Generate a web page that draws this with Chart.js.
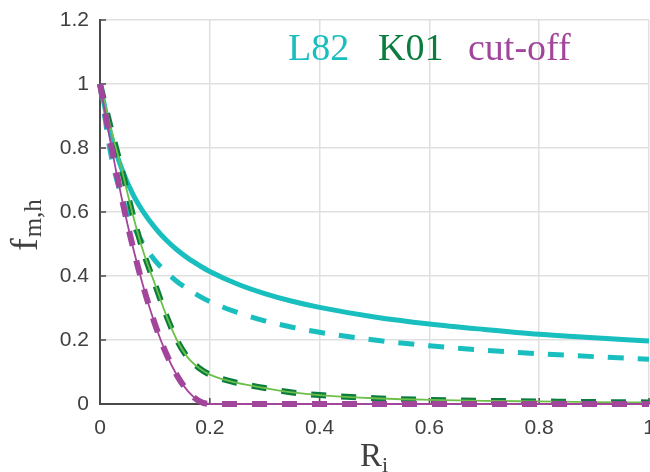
<!DOCTYPE html>
<html>
<head>
<meta charset="utf-8">
<script src="https://cdn.jsdelivr.net/npm/chart.js@4/dist/chart.umd.min.js"></script>
<style>
  html, body { margin: 0; padding: 0; background: #fff; }
  #wrap { width: 650px; height: 472px; }
</style>
</head>
<body>
<div id="wrap"><canvas id="fmh"></canvas></div>
<script>
// Richardson number samples
const ri = [0, 0.02, 0.04, 0.06, 0.08, 0.1, 0.12, 0.14, 0.16, 0.18, 0.2,
            0.25, 0.3, 0.35, 0.4, 0.5, 0.6, 0.7, 0.8, 0.9, 1.0];

// L82: momentum (solid) and heat (dashed)
const l82m = [1, 0.84, 0.733, 0.655, 0.597, 0.551, 0.513, 0.482, 0.456, 0.434, 0.414,
              0.375, 0.345, 0.321, 0.302, 0.272, 0.25, 0.233, 0.218, 0.207, 0.197];
const l82h = [1, 0.778, 0.646, 0.559, 0.497, 0.449, 0.413, 0.383, 0.359, 0.338, 0.32,
              0.286, 0.26, 0.24, 0.224, 0.2, 0.182, 0.168, 0.157, 0.148, 0.14];

// K01
const k01 = [1, 0.86, 0.73, 0.59, 0.47, 0.375, 0.28, 0.2, 0.145, 0.113, 0.092,
             0.066, 0.05, 0.036, 0.028, 0.018, 0.013, 0.01, 0.008, 0.006, 0.005];

// cut-off
const cutoff = [1, 0.81, 0.64, 0.49, 0.36, 0.25, 0.16, 0.09, 0.04, 0.01, 0,
                0, 0, 0, 0, 0, 0, 0, 0, 0, 0];

const xTicks = [0, 0.2, 0.4, 0.6, 0.8, 1];
const xTickLabels = ['0', '0.2', '0.4', '0.6', '0.8', '1'];
const yTicks = [0, 0.2, 0.4, 0.6, 0.8, 1, 1.2];
const yTickLabels = ['0', '0.2', '0.4', '0.6', '0.8', '1', '1.2'];

const legendItems = ['L82', 'K01', 'cut-off'];

const CYAN = '#19bebe';
const GREEN = '#0a7d3e';
const LIME = '#6cc04a';
const PURPLE = '#a2469c';
const AXIS = '#4a4a4a';

function pts(ys) {
    return ri.map((x, i) => ({ x: x, y: ys[i] }));
}

function line(ys, color, width, dash, order) {
    return {
        data: pts(ys),
        borderColor: color,
        borderWidth: width,
        borderDash: dash,
        pointRadius: 0,
        fill: false,
        cubicInterpolationMode: 'monotone',
        clip: false,
        order: order
    };
}

// inner tick marks, axis titles and the coloured text legend
const decorations = {
    id: 'decorations',
    beforeDatasetsDraw(chart) {
        const ctx = chart.ctx;
        const x = chart.scales.x, y = chart.scales.y;
        const a = chart.chartArea;
        ctx.save();
        ctx.strokeStyle = AXIS;
        ctx.lineWidth = 1.5;
        ctx.beginPath();
        xTicks.forEach(v => {
            const px = x.getPixelForValue(v);
            ctx.moveTo(px, a.bottom);
            ctx.lineTo(px, a.bottom - 6);
        });
        yTicks.forEach(v => {
            const py = y.getPixelForValue(v);
            ctx.moveTo(a.left, py);
            ctx.lineTo(a.left + 6, py);
        });
        ctx.stroke();
        ctx.restore();
    },
    afterDraw(chart) {
        const ctx = chart.ctx;
        ctx.save();
        ctx.textBaseline = 'alphabetic';
        ctx.textAlign = 'left';

        // x title R_i
        ctx.fillStyle = '#404040';
        ctx.font = '33px "Liberation Serif"';
        ctx.fillText('R', 360, 466);
        ctx.font = '22px "Liberation Serif"';
        ctx.fillText('i', 382, 472);

        // y title f_{m,h}
        ctx.save();
        ctx.translate(37, 251);
        ctx.rotate(-Math.PI / 2);
        ctx.font = '38px "Liberation Serif"';
        ctx.fillText('f', 0, 0);
        const fw = ctx.measureText('f').width;
        ctx.font = '25px "Liberation Serif"';
        ctx.fillText('m,h', fw + 1, 4);
        ctx.restore();

        // legend text
        const colors = [CYAN, GREEN, PURPLE];
        const lx = [288, 378, 468];
        ctx.font = '38px "Liberation Serif"';
        legendItems.forEach((t, i) => {
            ctx.fillStyle = colors[i];
            ctx.fillText(t, lx[i], 60);
        });
        ctx.restore();
    }
};

new Chart(document.getElementById('fmh').getContext('2d'), {
    type: 'line',
    data: {
        datasets: [
            line(l82m, CYAN, 5, [], 6),
            line(l82h, CYAN, 5, [16, 14], 5),
            line(k01, GREEN, 6, [15, 15], 4),
            line(k01, LIME, 1.8, [], 3),
            line(cutoff, PURPLE, 6, [15, 15], 2),
            line(cutoff, PURPLE, 1.8, [], 1)
        ]
    },
    options: {
        responsive: true,
        maintainAspectRatio: false,
        animation: false,
        layout: { padding: { left: 0, right: 1, top: 20, bottom: 0 } },
        plugins: {
            legend: { display: false },
            tooltip: { enabled: false }
        },
        scales: {
            x: {
                type: 'linear',
                min: 0,
                max: 1,
                afterBuildTicks: s => { s.ticks = xTicks.map(v => ({ value: v })); },
                afterFit: s => { s.height = 68; s.paddingLeft = 0; s.paddingRight = 0; },
                ticks: {
                    callback: (v, i) => xTickLabels[i],
                    color: '#404040',
                    font: { family: '"Liberation Sans", Arial', size: 21 },
                    padding: 12,
                    maxRotation: 0
                },
                grid: { color: '#e0e0e0', lineWidth: 1.5, drawTicks: false },
                border: { display: true, color: AXIS, width: 2 }
            },
            y: {
                type: 'linear',
                min: 0,
                max: 1.2,
                afterBuildTicks: s => { s.ticks = yTicks.map(v => ({ value: v })); },
                afterFit: s => { s.width = 100; s.paddingTop = 0; s.paddingBottom = 0; },
                ticks: {
                    callback: (v, i) => yTickLabels[i],
                    color: '#404040',
                    font: { family: '"Liberation Sans", Arial', size: 21 },
                    padding: 11
                },
                grid: { color: '#e0e0e0', lineWidth: 1.5, drawTicks: false },
                border: { display: true, color: AXIS, width: 2 }
            }
        }
    },
    plugins: [decorations]
});
</script>
</body>
</html>
